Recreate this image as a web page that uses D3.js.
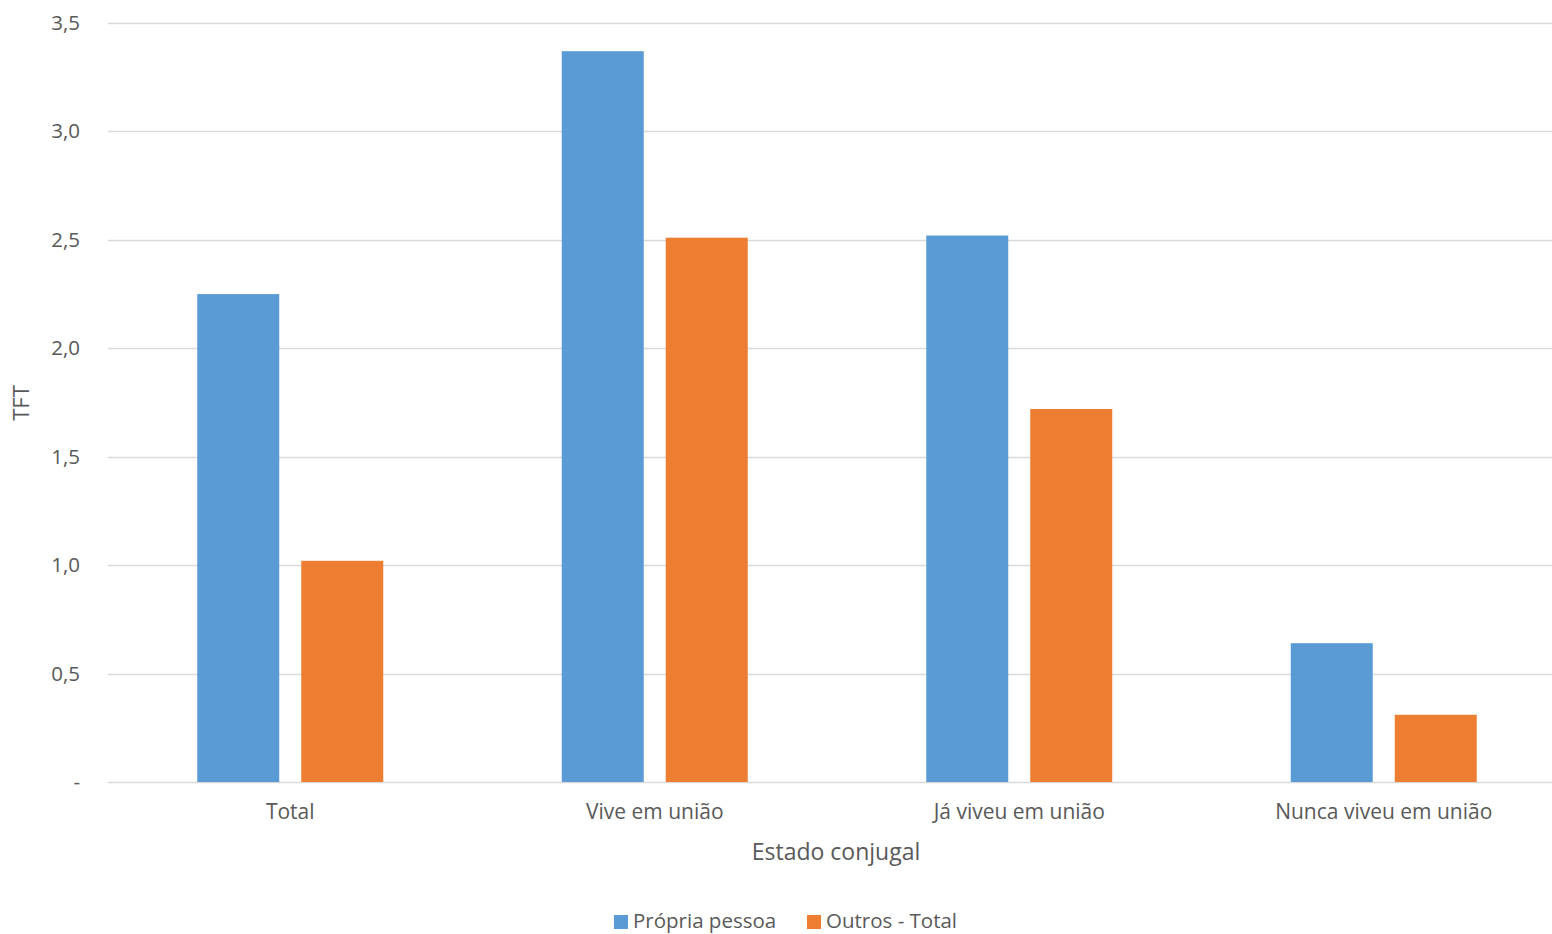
<!DOCTYPE html>
<html><head><meta charset="utf-8">
<script src="https://cdn.jsdelivr.net/npm/d3@7"></script>
<style>body{margin:0;background:#fff;} text{font-family:"Open Sans",sans-serif;fill:#595959;}</style>
</head><body>
<svg id="c" width="1552" height="934"></svg>
<script>
const categories = ["Total","Vive em união","Já viveu em união","Nunca viveu em união"];
const seriesNames = ["Própria pessoa","Outros - Total"];
const propria = [2.25, 3.37, 2.52, 0.64];
const outros = [1.02, 2.51, 1.72, 0.31];
const yTicks = [0,0.5,1.0,1.5,2.0,2.5,3.0,3.5];
const colors = ["#5B9BD5","#ED7D31"];

const svg = d3.select("#c");
const x0 = 108, x1 = 1566, yTop = 23, yBot = 782;
const x = d3.scaleBand().domain(categories).range([x0,x1]);
const y = d3.scaleLinear().domain([0,3.5]).range([yBot,yTop]);
const fmt = v => v===0 ? "-" : d3.format(".1f")(v).replace(".",",");

// grid
svg.append("g").selectAll("line").data(yTicks).join("line")
  .attr("x1",x0).attr("x2",1552).attr("y1",d=>Math.round(y(d))+0.5).attr("y2",d=>Math.round(y(d))+0.5)
  .attr("stroke","#D9D9D9").attr("stroke-width",1.5);

// y axis labels
const yAxis = d3.axisLeft(y).tickValues(yTicks).tickFormat(fmt).tickSize(0).tickPadding(0);
const ga = svg.append("g").attr("transform",`translate(80,0)`).call(yAxis);
ga.select(".domain").remove();
ga.selectAll("text").style("font-size","20.5px").style("font-family","'Open Sans',sans-serif").attr("fill","#595959");

// bars
const bw = 82, gap = 22;
const data = [propria, outros];
data.forEach((arr,si)=>{
  svg.append("g").selectAll("rect").data(arr).join("rect")
    .attr("x",(d,i)=> x(categories[i]) + x.bandwidth()/2 - (bw*2+gap)/2 + si*(bw+gap))
    .attr("width",bw)
    .attr("y",d=>y(d)).attr("height",d=>yBot-y(d))
    .attr("fill",colors[si]);
});

// x axis labels
const xAxis = d3.axisBottom(x).tickSize(0).tickPadding(0);
const gx = svg.append("g").attr("transform",`translate(0,${yBot+22})`).call(xAxis);
gx.select(".domain").remove();
gx.selectAll("text").style("font-size","21px").style("font-family","'Open Sans',sans-serif").attr("fill","#595959");

svg.append("text").attr("x",836).attr("y",860).attr("text-anchor","middle").style("font-size","23px").text("Estado conjugal");
svg.append("text").attr("transform","translate(29,403) rotate(-90)").attr("text-anchor","middle").style("font-size","22px").text("TFT");

// legend
const leg = [{name:seriesNames[0],x:614},{name:seriesNames[1],x:807}];
leg.forEach((l,i)=>{
  svg.append("rect").attr("x",l.x).attr("y",915).attr("width",14).attr("height",14).attr("fill",colors[i]);
  svg.append("text").attr("x",l.x+19).attr("y",928).style("font-size","20.5px").text(l.name);
});
</script>
</body></html>
